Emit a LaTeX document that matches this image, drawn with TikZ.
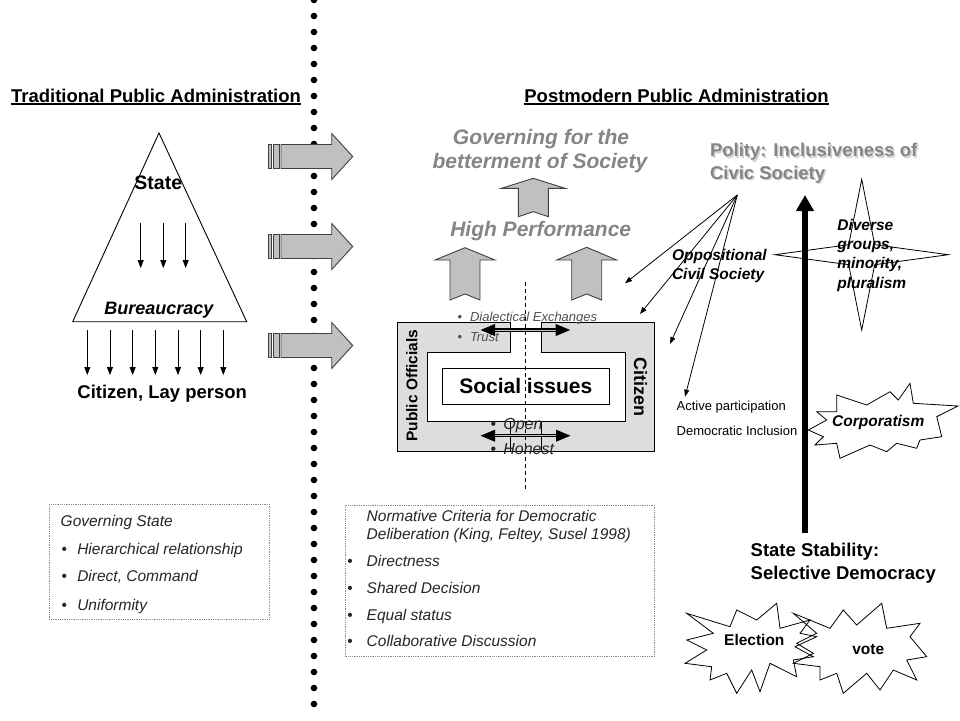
\documentclass[tikz,border=0pt]{standalone}
\usepackage{fontspec}
\setmainfont{Liberation Sans}
\usetikzlibrary{arrows.meta}
\definecolor{arrfill}{HTML}{C0C0C0}
\definecolor{arredge}{HTML}{404040}
\definecolor{boxgray}{HTML}{DDDDDD}
\definecolor{txtgray}{HTML}{858585}
\definecolor{shadowgray}{HTML}{D0D0D0}
\definecolor{dotgray}{HTML}{8C8C8C}
\definecolor{smallgray}{HTML}{505050}
\definecolor{bodytxt}{HTML}{262626}
\newcommand\fsz[1]{\fontsize{#1}{#1}\selectfont}
\newcommand\upblock[7]{\draw[blockarr] (#1,#2) -- (#1+#3,#5) -- (#1+#4,#5) -- (#1+#4,#6) -- (#1,#7) -- (#1-#4,#6) -- (#1-#4,#5) -- (#1-#3,#5) -- cycle;}
\begin{document}
\begin{tikzpicture}[x=1pt,y=-1pt,
  txt/.style={inner sep=0pt,outer sep=0pt},
  blockarr/.style={fill=arrfill,draw=arredge,line width=0.9pt,line join=miter},
  downarr/.style={line width=0.9pt,-{Triangle[length=8pt,width=6pt]}},
  fanarr/.style={line width=0.8pt,-{Triangle[length=7pt,width=5pt]}},
  dbl/.style={line width=3.4pt,{Triangle[length=15pt,width=11pt]}-{Triangle[length=15pt,width=11pt]}},
  dblcore/.style={line width=1pt,draw=white!75!black,shorten <=15pt,shorten >=15pt},
  burst/.style={draw,line width=0.8pt,line join=miter},
  dotbox/.style={draw=dotgray,dash pattern=on 0.9pt off 0.9pt,line width=0.8pt},
  bigtitle/.style={txt,font=\bfseries\fsz{18.5}},
  graytxt/.style={txt,text=txtgray,font=\bfseries\itshape\fsz{21}},
  bodyit/.style={txt,text=bodytxt,font=\itshape\fsz{15.5}},
  bul/.style={txt,text=bodytxt,font=\fsz{15.5}},
  bi/.style={txt,font=\bfseries\itshape\fsz{15.5}}
]
\path[use as bounding box,fill=white] (0,0) rectangle (960,720);

% dotted divider
\foreach \k in {0,...,44} \fill (314,16*\k) circle[radius=3.3];

% right-pointing block arrows
\foreach \c in {156.5,246.5,345.5} {
  \draw[blockarr] (281,\c-12) -- (331.7,\c-12) -- (331.7,\c-23) -- (352.7,\c) -- (331.7,\c+23) -- (331.7,\c+12) -- (281,\c+12) -- cycle;
  \draw[blockarr] (268.3,\c-12) rectangle (271.7,\c+12);
  \draw[blockarr] (273.3,\c-12) rectangle (279.3,\c+12);
}

% titles
\node[bigtitle,anchor=base] (ttrad) at (156,102.2) {Traditional Public Administration};
\draw[line width=1.3pt] ([yshift=-1.8pt]ttrad.base west) -- ([yshift=-1.8pt]ttrad.base east);
\node[bigtitle,anchor=base] (tpost) at (676.5,102.2) {Postmodern Public Administration};
\draw[line width=1.3pt] ([yshift=-1.8pt]tpost.base west) -- ([yshift=-1.8pt]tpost.base east);

% pyramid
\draw[fill=white,line width=0.9pt] (159,133) -- (72.7,321.7) -- (246.7,321.7) -- cycle;
\node[txt,anchor=base,font=\bfseries\fsz{19.5}] (state) at (158.3,189.2) {State};
\node[txt,anchor=base,font=\bfseries\itshape\fsz{18}] (bur) at (158.8,314.8) {Bureaucracy};
\node[txt,anchor=base,font=\bfseries\fsz{18.5}] (citlay) at (162.2,398.4) {Citizen, Lay person};
\foreach \x [count=\i] in {140.7,163.3,185.7} {
  \coordinate (ia\i) at (\x,223);
  \coordinate (ib\i) at (\x,268);
  \draw[downarr] (ia\i) -- (ib\i);
}
\foreach \i in {0,...,6} {
  \coordinate (oa\i) at (87.3+22.67*\i,330);
  \coordinate (ob\i) at (87.3+22.67*\i,375);
  \draw[downarr] (oa\i) -- (ob\i);
}

% governing state box
\draw[dotbox] (49.3,504) rectangle (269.3,619.3);
\node[bodyit,anchor=base west] (gs0) at (60.7,526.7) {Governing State};
\node[bul,anchor=base] (gb1) at (64.3,554) {\textbullet};
\node[bodyit,anchor=base west] (gs1) at (77.3,554) {Hierarchical relationship};
\node[bul,anchor=base] (gb2) at (64.3,581.7) {\textbullet};
\node[bodyit,anchor=base west] (gs2) at (77.3,581.7) {Direct, Command};
\node[bul,anchor=base] (gb3) at (64.3,610) {\textbullet};
\node[bodyit,anchor=base west] (gs3) at (77.3,610) {Uniformity};

% middle: goals
\node[graytxt,anchor=base] (gov1) at (541,144) {Governing for the};
\node[graytxt,anchor=base] (gov2) at (540,168.3) {betterment of Society};
\node[graytxt,anchor=base] (hp) at (540.7,236.7) {High Performance};
\upblock{533.3}{178.3}{31.7}{15}{188.3}{216.7}{211.7}
\upblock{465}{247.7}{30}{15}{260}{300}{294}
\upblock{586.7}{247.3}{30}{15}{260}{300}{294}

% gray frame
\draw[fill=boxgray,line width=0.9pt,line join=miter] (510,322.3) -- (397.3,322.3) -- (397.3,451.7) -- (654,451.7) -- (654,322.3) -- (541.7,322.3) -- (541.7,352.3) -- (625,352.3) -- (625,421) -- (427.7,421) -- (427.7,352.3) -- (510,352.3) -- cycle;
\draw[line width=0.9pt] (510,421) -- (510,451.7) (541.7,421) -- (541.7,451.7);
\node[draw,fill=white,line width=0.9pt,minimum width=167pt,minimum height=35.7pt,inner sep=0pt,font=\bfseries\fsz{21}] (soc) at (525.8,386.2) {Social issues};
\node[txt,anchor=base,rotate=90,font=\bfseries\fsz{15.5}] (pubo) at (417.3,385.8) {Public Officials};
\node[txt,anchor=base,rotate=-90,font=\bfseries\fsz{18}] (citz) at (634,386.7) {Citizen};

\coordinate (dl1) at (525,282);
\coordinate (dl2) at (525,490);
\draw[line width=0.8pt,dash pattern=on 4pt off 3pt] (dl1) -- (dl2);

\node[txt,anchor=base,text=smallgray,font=\fsz{13}] (db1) at (460,321.7) {\textbullet};
\node[txt,anchor=base west,text=smallgray,font=\itshape\fsz{13}] (dex) at (470,321.7) {Dialectical Exchanges};
\node[txt,anchor=base,text=smallgray,font=\fsz{13}] (db2) at (460,341.7) {\textbullet};
\node[txt,anchor=base west,text=smallgray,font=\itshape\fsz{13}] (trust) at (470,341.7) {Trust};
\node[txt,anchor=base,text=bodytxt,font=\fsz{16}] (db3) at (493.3,429.3) {\textbullet};
\node[txt,anchor=base west,text=bodytxt,font=\itshape\fsz{16}] (open) at (503.3,429.3) {Open};
\node[txt,anchor=base,text=bodytxt,font=\fsz{16}] (db4) at (493.3,454.3) {\textbullet};
\node[txt,anchor=base west,text=bodytxt,font=\itshape\fsz{16}] (hon) at (503.3,454.3) {Honest};

\coordinate (da1) at (480,330);
\coordinate (da2) at (570.7,330);
\coordinate (dc1) at (480,435.7);
\coordinate (dc2) at (571,435.7);
\draw[dbl] (da1) -- (da2);
\draw[dblcore] (da1) -- (da2);
\draw[dbl] (dc1) -- (dc2);
\draw[dblcore] (dc1) -- (dc2);

% normative box
\draw[dotbox] (345,505) rectangle (654.3,656.7);
\node[bodyit,anchor=base west] (nc1) at (366.7,521.7) {Normative Criteria for Democratic};
\node[bodyit,anchor=base west] (nc2) at (366.7,539) {Deliberation (King, Feltey, Susel 1998)};
\node[bul,anchor=base] (nb1) at (350,566) {\textbullet};
\node[bodyit,anchor=base west] (ni1) at (366.7,566) {Directness};
\node[bul,anchor=base] (nb2) at (350,593.3) {\textbullet};
\node[bodyit,anchor=base west] (ni2) at (366.7,593.3) {Shared Decision};
\node[bul,anchor=base] (nb3) at (350,620) {\textbullet};
\node[bodyit,anchor=base west] (ni3) at (366.7,620) {Equal status};
\node[bul,anchor=base] (nb4) at (350,646.7) {\textbullet};
\node[bodyit,anchor=base west] (ni4) at (366.7,646.7) {Collaborative Discussion};

% right side
\node[txt,anchor=base west,text=shadowgray,font=\bfseries\fsz{18.5}] (pol1s) at (711.5,158.2) {Polity: Inclusiveness of};
\node[txt,anchor=base west,text=shadowgray,font=\bfseries\fsz{18.5}] (pol2s) at (711.5,180.8) {Civic Society};
\node[txt,anchor=base west,text=txtgray,font=\bfseries\fsz{18.5}] (pol1) at (710,156.7) {Polity: Inclusiveness of};
\node[txt,anchor=base west,text=txtgray,font=\bfseries\fsz{18.5}] (pol2) at (710,179.3) {Civic Society};

\coordinate (fo) at (737.3,195);
\coordinate (f1) at (625,283.3);
\coordinate (f2) at (640,314);
\coordinate (f3) at (670,344);
\coordinate (f4) at (685,396.7);
\foreach \t in {f1,f2,f3,f4} \draw[fanarr] (fo) -- (\t);

\node[bi,anchor=base west] (opp1) at (672,260) {Oppositional};
\node[bi,anchor=base west] (opp2) at (672,279.3) {Civil Society};

% four-point star
\draw[burst] (861.7,179.3) -- (874.7,244.7) -- (948.3,254.7) -- (874.7,264.7) -- (861.7,330) -- (848.7,264.7) -- (775,254.7) -- (848.7,244.7) -- cycle;
\node[bi,anchor=base west] (dv1) at (837.3,230.7) {Diverse};
\node[bi,anchor=base west] (dv2) at (837.3,249.8) {groups,};
\node[bi,anchor=base west] (dv3) at (837.3,268.9) {minority,};
\node[bi,anchor=base west] (dv4) at (837.3,288) {pluralism};

% thick state arrow
\coordinate (sb) at (805,533.3);
\coordinate (st) at (805,195);
\draw[line width=6.7pt,-{Triangle[length=16pt,width=17pt]}] (sb) -- (st);

\node[txt,anchor=base west,font=\fsz{13}] (act) at (676.7,410.7) {Active participation};
\node[txt,anchor=base west,font=\fsz{13}] (dem) at (676.7,435) {Democratic Inclusion};

% corporatism burst
\draw[burst] (808.3,430) -- (826.7,420) -- (816.7,411.7) -- (836.7,411.7) -- (836.7,395) -- (866.7,405) -- (890,391.7) -- (898.3,400) -- (910,383.3) -- (913.3,403.3) -- (958,406) -- (936.7,416.7) -- (941.7,436.7) -- (920,440) -- (916.7,448.3) -- (896.7,443.3) -- (886.7,451.7) -- (870,445) -- (840,458.3) -- (836.7,443.3) -- (815,445) -- (823.3,436.7) -- cycle;
\node[bi,anchor=base] (corp) at (878.3,426) {Corporatism};

\node[txt,anchor=base west,font=\bfseries\fsz{18.5}] (ss1) at (750.7,556.7) {State Stability:};
\node[txt,anchor=base west,font=\bfseries\fsz{18.5}] (ss2) at (750.7,579.3) {Selective Democracy};

% election and vote bursts
\draw[burst] (686.7,613.3) -- (730,626.7) -- (736.7,610) -- (756.7,620) -- (776.7,603.3) -- (780,628.3) -- (810,620) -- (800,633.3) -- (816.7,636.7) -- (795,646.7) -- (813.3,656.7) -- (793.3,660) -- (796.7,676.7) -- (770,663.3) -- (760,691.7) -- (751.7,670) -- (736.7,693.3) -- (726.7,673.3) -- (710,680) -- (711.7,666.7) -- (685,663.3) -- (706.7,650) -- (686.7,640) -- (713.3,633.3) -- cycle;
\draw[burst] (793.3,613.3) -- (830,628.3) -- (843.3,610) -- (856.7,625) -- (881.7,603.3) -- (886.7,628.3) -- (920,623.3) -- (910,636.7) -- (926.7,656.7) -- (906.7,660) -- (916.7,680) -- (893.3,670) -- (880,690) -- (866.7,673.3) -- (843.3,693.3) -- (836.7,673.3) -- (820,680) -- (820,666.7) -- (793.3,663.3) -- (813.3,653.3) -- (796.7,643.3) -- (816.7,633.3) -- cycle;
\node[txt,anchor=base,font=\bfseries\fsz{15.5}] (elec) at (754.3,645) {Election};
\node[txt,anchor=base,font=\bfseries\fsz{15.5}] (vote) at (868.3,654) {vote};
\end{tikzpicture}
\end{document}
